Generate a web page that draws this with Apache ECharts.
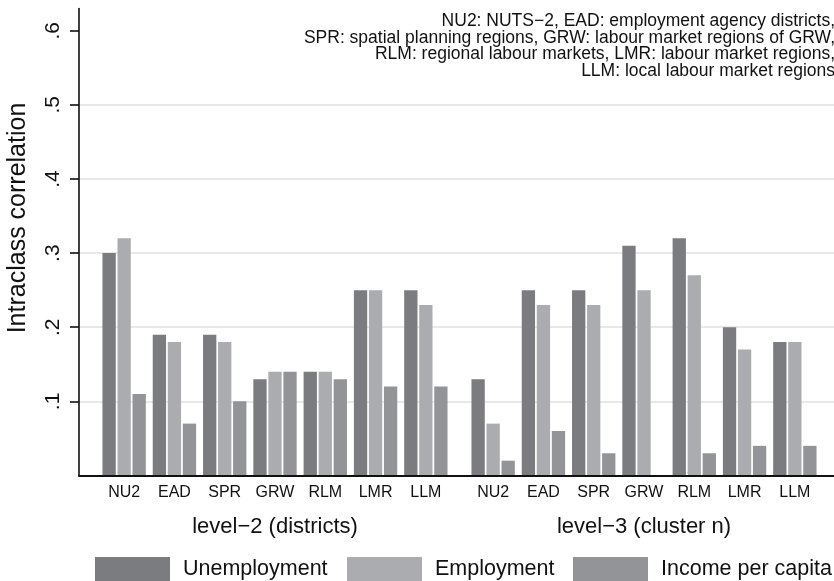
<!DOCTYPE html>
<html><head><meta charset="utf-8">
<script src="https://cdn.jsdelivr.net/npm/echarts@6/dist/echarts.min.js"></script>
<style>html,body{margin:0;padding:0;background:#fff}#c{width:834px;height:581px}</style>
</head><body><div id="c"></div>
<script>
const regions = ['NU2','EAD','SPR','GRW','RLM','LMR','LLM'];
const yTicks = [0.1,0.2,0.3,0.4,0.5,0.6];
const l2Unemployment = [0.30,0.19,0.19,0.13,0.14,0.25,0.25];
const l2Employment   = [0.32,0.18,0.18,0.14,0.14,0.25,0.23];
const l2Income       = [0.11,0.07,0.10,0.14,0.13,0.12,0.12];
const l3Unemployment = [0.13,0.25,0.25,0.31,0.32,0.20,0.18];
const l3Employment   = [0.07,0.23,0.23,0.25,0.27,0.17,0.18];
const l3Income       = [0.02,0.06,0.03,null,0.03,0.04,0.04];
const groupTitles = ['level\u22122 (districts)','level\u22123 (cluster n)'];
const seriesNames = ['Unemployment','Employment','Income per capita'];
const yTitle = 'Intraclass correlation';
const noteLines = [
  'NU2: NUTS\u22122, EAD: employment agency districts,',
  'SPR: spatial planning regions, GRW: labour market regions of GRW,',
  'RLM: regional labour markets, LMR: labour market regions,',
  'LLM: local labour market regions'
];

const FONT = '"Liberation Sans", Arial, Helvetica, sans-serif';
const colors = ['#7b7c80','#abacaf','#939498'];
const TOP = 8.5, BOTTOM = 105.5;
const legendLefts = [95, 347, 573];
const chart = echarts.init(document.getElementById('c'), null, {renderer:'canvas'});

function catAxis(gi, title){
  return {type:'category', gridIndex:gi, data:regions,
    axisLine:{show:false}, axisTick:{show:false},
    axisLabel:{interval:0, fontSize:16, color:'#111', margin:9, fontFamily:FONT},
    name:title, nameLocation:'middle', nameGap:40,
    nameTextStyle:{fontSize:22, color:'#111', fontFamily:FONT}};
}
function hiddenY(gi){ return {type:'value', gridIndex:gi, min:0, max:0.63, show:false}; }
function bars(gi, data, k){
  return {type:'bar', name:seriesNames[k], xAxisIndex:gi, yAxisIndex:gi, data:data,
    barWidth:13.3, barGap:'13%', itemStyle:{color:colors[k]}, z:3};
}

const option = {
  animation:false,
  backgroundColor:'#fff',
  textStyle:{fontFamily:FONT},
  grid:[
    {left:79, right:-10, top:TOP, bottom:BOTTOM},
    {left:79, right:-10, top:475.5-0.5*(467/0.63), bottom:BOTTOM},
    {left:99, width:352, top:TOP, bottom:BOTTOM},
    {left:468, width:352, top:TOP, bottom:BOTTOM}
  ],
  xAxis:[
    {type:'value', gridIndex:0, min:0, max:1, axisLine:{show:true, lineStyle:{color:'#111', width:2}},
     axisTick:{show:false}, axisLabel:{show:false}, splitLine:{show:false}, z:10},
    {type:'value', gridIndex:1, min:0, max:1, show:false},
    catAxis(2, groupTitles[0]),
    catAxis(3, groupTitles[1])
  ],
  yAxis:[
    {type:'value', gridIndex:0, min:0, max:0.63,
     axisLine:{show:true, lineStyle:{color:'#111', width:1.6}},
     axisTick:{show:true, length:9, customValues:yTicks, lineStyle:{color:'#111', width:1.6}},
     axisLabel:{show:true, customValues:yTicks, rotate:90, fontSize:21, color:'#111', margin:15, fontFamily:FONT,
       formatter:function(v){ return String(Math.round(v*10)/10).replace(/^0/, ''); }},
     splitLine:{show:false}, z:10},
    {type:'value', gridIndex:1, min:0, max:0.5, interval:0.1,
     axisLine:{show:false}, axisTick:{show:false}, axisLabel:{show:false},
     splitLine:{show:true, showMinLine:false, lineStyle:{color:'#e1e1e1', width:1.5}}},
    hiddenY(2), hiddenY(3)
  ],
  legend:seriesNames.map(function(n,i){
    return {data:[n], left:legendLefts[i], top:557, padding:0, itemWidth:75, itemHeight:24,
      icon:'rect', textStyle:{fontSize:21.5, color:'#111', fontFamily:FONT, padding:[0,0,0,8]}};
  }),
  graphic:[
    {type:'text', x:18, y:218, rotation:Math.PI/2,
     style:{text:yTitle, fontSize:25, fontFamily:FONT, fill:'#111', textAlign:'center', textVerticalAlign:'middle'}}
  ].concat(noteLines.map(function(t,i){
    return {type:'text', x:835, y:21+i*16.7,
      style:{text:t, fontSize:17.5, fontFamily:FONT, fill:'#111', textAlign:'right', textVerticalAlign:'middle'}};
  })),
  series:[
    bars(2, l2Unemployment, 0), bars(2, l2Employment, 1), bars(2, l2Income, 2),
    bars(3, l3Unemployment, 0), bars(3, l3Employment, 1), bars(3, l3Income, 2)
  ]
};
chart.setOption(option);
</script>
</body></html>
